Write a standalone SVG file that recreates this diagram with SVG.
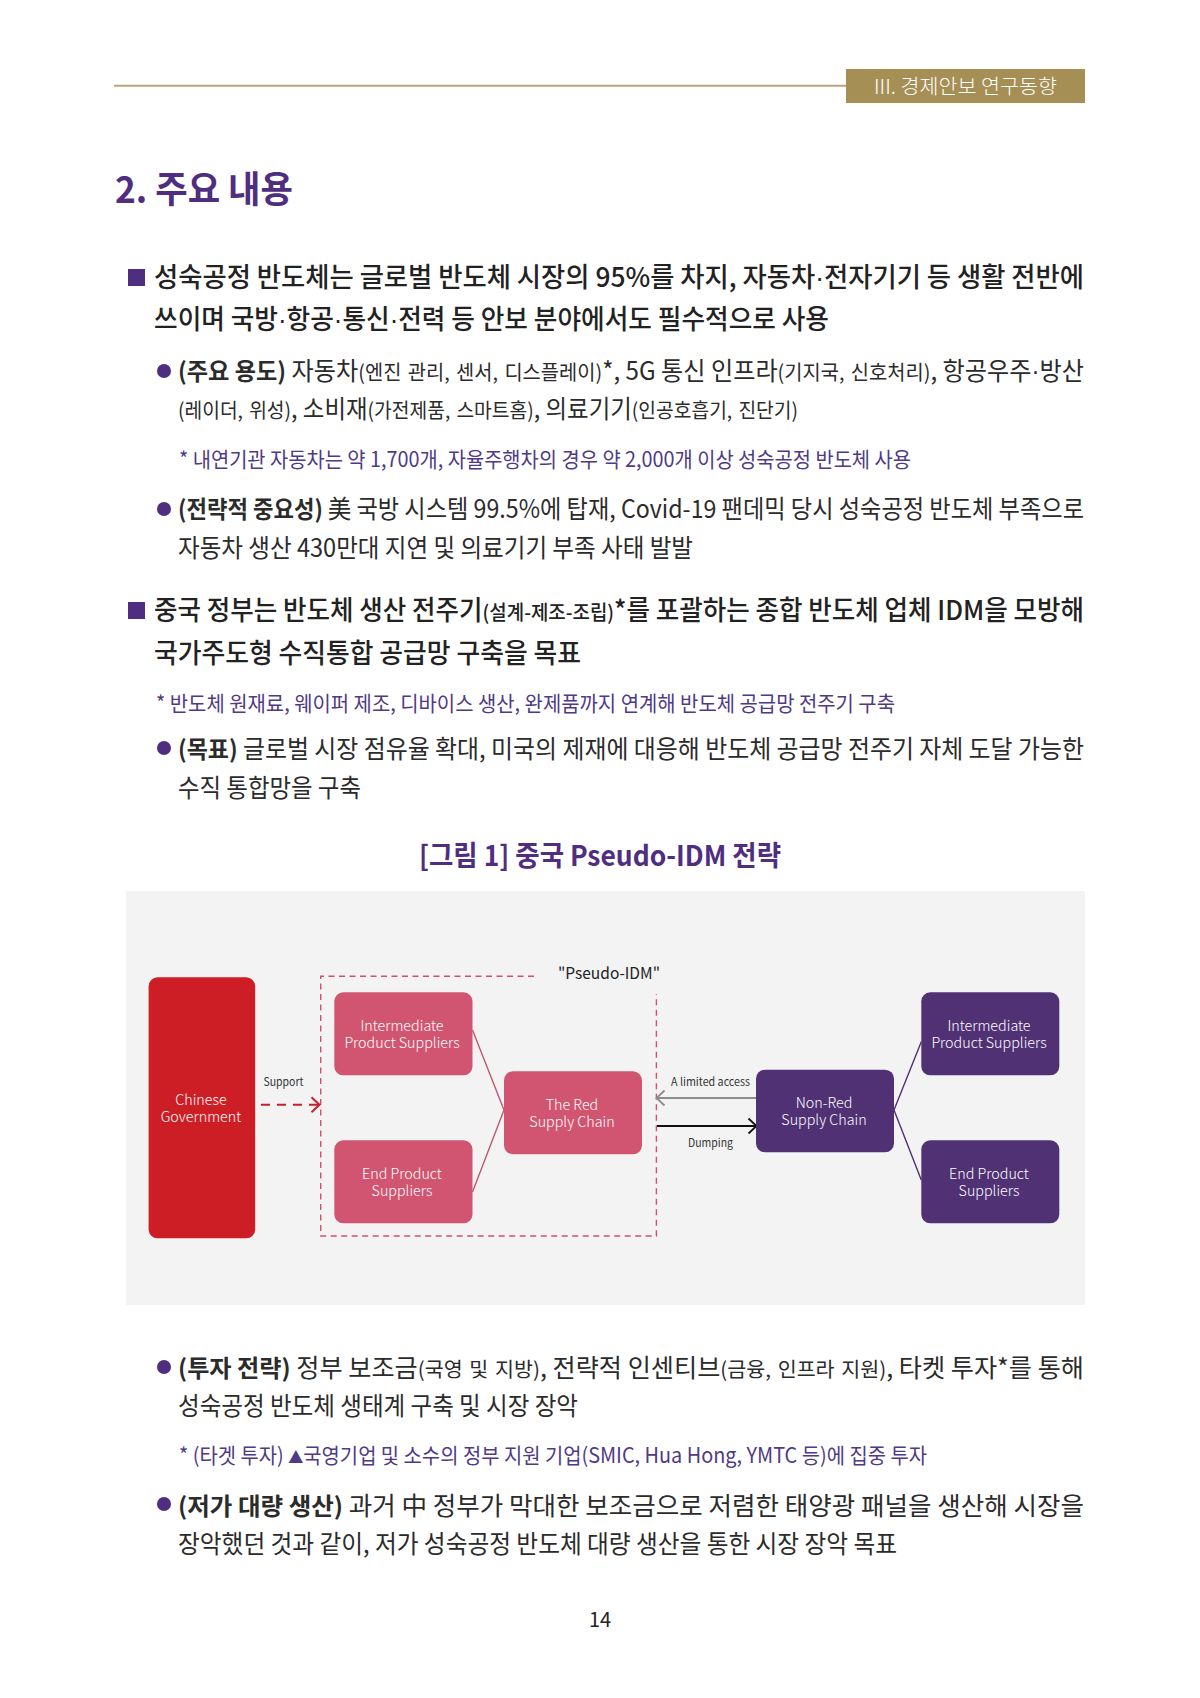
<svg xmlns="http://www.w3.org/2000/svg" width="1200" height="1698" viewBox="0 0 1200 1698">
<defs>
<marker id="aRed" markerUnits="userSpaceOnUse" markerWidth="14" markerHeight="20" refX="10" refY="9" orient="auto"><path d="M1.5 1.5L9.5 9L1.5 16.5" fill="none" stroke="#c8202a" stroke-width="2"/></marker>
<marker id="aGray" markerUnits="userSpaceOnUse" markerWidth="14" markerHeight="20" refX="10" refY="9" orient="auto"><path d="M1.5 1.5L9.5 9L1.5 16.5" fill="none" stroke="#8c8c8c" stroke-width="1.8"/></marker>
<marker id="aBlack" markerUnits="userSpaceOnUse" markerWidth="14" markerHeight="20" refX="10" refY="9" orient="auto"><path d="M1.5 1.5L9.5 9L1.5 16.5" fill="none" stroke="#111" stroke-width="1.8"/></marker>
</defs>
<style>
text{font-family:"Noto Sans CJK KR","Noto Sans",sans-serif}
.h{font-size:27px;font-weight:500;fill:#222}
.b{font-size:25px;fill:#2b2b2b}
.s{font-size:20.5px;word-spacing:2px}
.hs{font-size:20px}
.k{font-weight:700;font-size:24px}
.d{font-family:"Liberation Sans",sans-serif}
.n{font-size:21px;fill:#4f3a85}
.bu{fill:#4f2d7f}
.r{fill:#d15570}
.p{fill:#4f3174}
.t{font-size:14.3px;fill:#fff;text-anchor:middle;font-weight:300}
.l{font-size:11.5px;fill:#333}
</style>
<rect width="1200" height="1698" fill="#fff"/>
<g id="header">
<line x1="114" y1="85.7" x2="846" y2="85.7" stroke="#b5a67f" stroke-width="2"/>
<rect x="846" y="69" width="239" height="34" fill="#a68f55"/>
<text x="874" y="93.5" font-size="20" font-weight="300" fill="#fff" textLength="183" lengthAdjust="spacingAndGlyphs">III. 경제안보 연구동향</text>
</g>
<text x="115" y="203" font-size="37" font-weight="700" fill="#4f2d7f" textLength="178" lengthAdjust="spacingAndGlyphs">2. 주요 내용</text>
<g id="body-top">
<rect class="bu" x="128" y="269" width="17" height="17"/>
<text class="h" x="154" y="287" textLength="930" lengthAdjust="spacingAndGlyphs">성숙공정 반도체는 글로벌 반도체 시장의 95%를 차지, 자동차<tspan class="d">·</tspan>전자기기 등 생활 전반에</text>
<text class="h" x="154" y="329" textLength="675" lengthAdjust="spacingAndGlyphs">쓰이며 국방<tspan class="d">·</tspan>항공<tspan class="d">·</tspan>통신<tspan class="d">·</tspan>전력 등 안보 분야에서도 필수적으로 사용</text>
<circle class="bu" cx="164" cy="371" r="7"/>
<text class="b" x="178" y="380" textLength="906" lengthAdjust="spacingAndGlyphs"><tspan class="k">(주요 용도)</tspan> 자동차<tspan class="s">(엔진 관리, 센서, 디스플레이)</tspan>*, 5G 통신 인프라<tspan class="s">(기지국, 신호처리)</tspan>, 항공우주<tspan class="d">·</tspan>방산</text>
<text class="b" x="178" y="418" textLength="620" lengthAdjust="spacingAndGlyphs"><tspan class="s">(레이더, 위성)</tspan>, 소비재<tspan class="s">(가전제품, 스마트홈)</tspan>, 의료기기<tspan class="s">(인공호흡기, 진단기)</tspan></text>
<text class="n" x="179" y="467" textLength="732" lengthAdjust="spacingAndGlyphs">* 내연기관 자동차는 약 1,700개, 자율주행차의 경우 약 2,000개 이상 성숙공정 반도체 사용</text>
<circle class="bu" cx="164" cy="509" r="7"/>
<text class="b" x="178" y="518" textLength="906" lengthAdjust="spacingAndGlyphs"><tspan class="k">(전략적 중요성)</tspan> 美 국방 시스템 99.5%에 탑재, Covid-19 팬데믹 당시 성숙공정 반도체 부족으로</text>
<text class="b" x="178" y="557" textLength="515" lengthAdjust="spacingAndGlyphs">자동차 생산 430만대 지연 및 의료기기 부족 사태 발발</text>
<rect class="bu" x="128" y="602" width="17" height="17"/>
<text class="h" x="154" y="620" textLength="930" lengthAdjust="spacingAndGlyphs">중국 정부는 반도체 생산 전주기<tspan class="hs">(설계-제조-조립)</tspan>*를 포괄하는 종합 반도체 업체 IDM을 모방해</text>
<text class="h" x="154" y="663" textLength="427" lengthAdjust="spacingAndGlyphs">국가주도형 수직통합 공급망 구축을 목표</text>
<text class="n" x="156" y="711" textLength="739" lengthAdjust="spacingAndGlyphs">* 반도체 원재료, 웨이퍼 제조, 디바이스 생산, 완제품까지 연계해 반도체 공급망 전주기 구축</text>
<circle class="bu" cx="164" cy="748" r="7"/>
<text class="b" x="178" y="758" textLength="906" lengthAdjust="spacingAndGlyphs"><tspan class="k">(목표)</tspan> 글로벌 시장 점유율 확대, 미국의 제재에 대응해 반도체 공급망 전주기 자체 도달 가능한</text>
<text class="b" x="178" y="797" textLength="183" lengthAdjust="spacingAndGlyphs">수직 통합망을 구축</text>
<text x="419" y="866" font-size="28" font-weight="700" fill="#4f2d7f" textLength="362" lengthAdjust="spacingAndGlyphs">[그림 1] 중국 Pseudo-IDM 전략</text>
</g>
<rect id="panel" x="126" y="891" width="959" height="414" fill="#f3f3f4"/>
<g id="connectors" fill="none">
<path d="M320.7 994V1236H656.4V994" stroke="#d1506f" stroke-width="1.4" stroke-dasharray="6 4.5"/>
<path d="M534 976.3H320.7V994" stroke="#d1506f" stroke-width="1.4" stroke-dasharray="6 4.5"/>
<line x1="261" y1="1104.7" x2="320" y2="1104.7" stroke="#c8202a" stroke-width="2" stroke-dasharray="9 7" marker-end="url(#aRed)"/>
<line x1="756" y1="1098" x2="656" y2="1098" stroke="#8c8c8c" stroke-width="1.8" marker-end="url(#aGray)"/>
<line x1="657" y1="1126" x2="757" y2="1126" stroke="#111" stroke-width="1.8" marker-end="url(#aBlack)"/>
<path d="M472.5 1030L504 1110L472.5 1192" stroke="#c0566f" stroke-width="1.4"/>
<path d="M921.3 1041.7L894 1110L921.3 1180" stroke="#4f3174" stroke-width="1.4"/>
</g>
<g id="gov"><rect x="148.6" y="977.3" width="106.6" height="261" rx="9" fill="#cd1e25"/>
<text class="t" x="201" y="1104.5">Chinese</text><text class="t" x="201" y="1122">Government</text></g>
<g id="red-intermediate"><rect class="r" x="334.3" y="992.3" width="138.2" height="83" rx="9"/>
<text class="t" x="402" y="1030.5">Intermediate</text><text class="t" x="402" y="1048">Product Suppliers</text></g>
<g id="red-end"><rect class="r" x="334.3" y="1140.3" width="138.2" height="83" rx="9"/>
<text class="t" x="402" y="1178.5">End Product</text><text class="t" x="402" y="1196">Suppliers</text></g>
<g id="red-chain"><rect class="r" x="504" y="1071.3" width="138" height="83" rx="9"/>
<text class="t" x="572" y="1110">The Red</text><text class="t" x="572" y="1127">Supply Chain</text></g>
<g id="nonred-chain"><rect class="p" x="756" y="1069.7" width="138" height="82.6" rx="9"/>
<text class="t" x="824" y="1108">Non-Red</text><text class="t" x="824" y="1125">Supply Chain</text></g>
<g id="purple-intermediate"><rect class="p" x="921.3" y="992.3" width="138" height="83" rx="9"/>
<text class="t" x="989" y="1030.5">Intermediate</text><text class="t" x="989" y="1048">Product Suppliers</text></g>
<g id="purple-end"><rect class="p" x="921.3" y="1140.3" width="138" height="83" rx="9"/>
<text class="t" x="989" y="1178.5">End Product</text><text class="t" x="989" y="1196">Suppliers</text></g>
<g id="labels">
<text x="558" y="979" font-size="16" fill="#222" textLength="102" lengthAdjust="spacingAndGlyphs">"Pseudo-IDM"</text>
<text class="l" x="263.5" y="1085.5" textLength="40" lengthAdjust="spacingAndGlyphs">Support</text>
<text class="l" x="671" y="1085.5" textLength="79" lengthAdjust="spacingAndGlyphs">A limited access</text>
<text class="l" x="688" y="1147" textLength="45" lengthAdjust="spacingAndGlyphs">Dumping</text>
</g>
<g id="body-bottom">
<circle class="bu" cx="164" cy="1367" r="7"/>
<text class="b" x="178" y="1377" textLength="906" lengthAdjust="spacingAndGlyphs"><tspan class="k">(투자 전략)</tspan> 정부 보조금<tspan class="s">(국영 및 지방)</tspan>, 전략적 인센티브<tspan class="s">(금융, 인프라 지원)</tspan>, 타켓 투자*를 통해</text>
<text class="b" x="178" y="1415" textLength="400" lengthAdjust="spacingAndGlyphs">성숙공정 반도체 생태계 구축 및 시장 장악</text>
<text class="n" x="179" y="1463" textLength="748" lengthAdjust="spacingAndGlyphs">* (타겟 투자) <tspan font-size="16">▲</tspan>국영기업 및 소수의 정부 지원 기업(SMIC, Hua Hong, YMTC 등)에 집중 투자</text>
<circle class="bu" cx="164" cy="1504" r="7"/>
<text class="b" x="178" y="1515" textLength="906" lengthAdjust="spacingAndGlyphs"><tspan class="k">(저가 대량 생산)</tspan> 과거 中 정부가 막대한 보조금으로 저렴한 태양광 패널을 생산해 시장을</text>
<text class="b" x="178" y="1553" textLength="719" lengthAdjust="spacingAndGlyphs">장악했던 것과 같이, 저가 성숙공정 반도체 대량 생산을 통한 시장 장악 목표</text>
<text x="600" y="1627" font-size="20" fill="#222" text-anchor="middle">14</text>
</g>
</svg>
